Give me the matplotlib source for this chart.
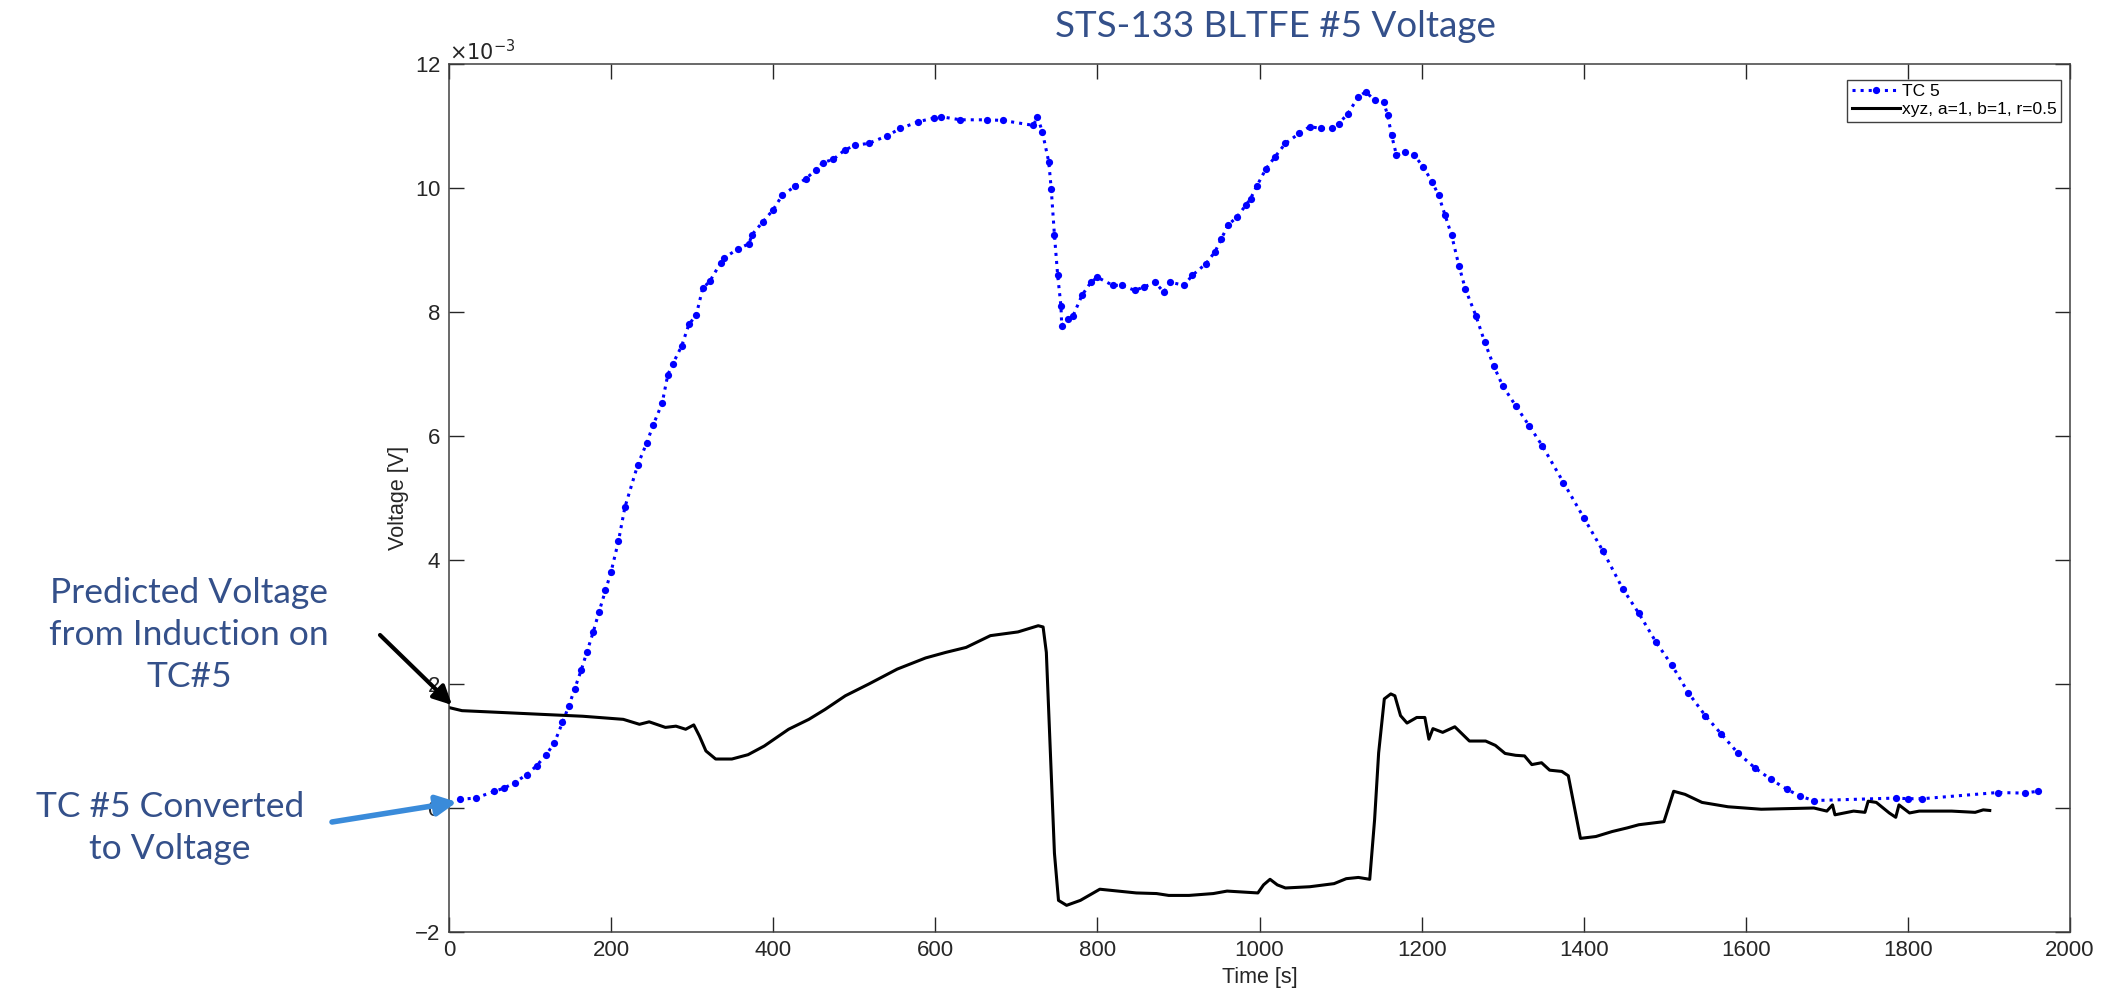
import numpy as np
import matplotlib.pyplot as plt
from matplotlib.ticker import ScalarFormatter

plt.rcParams['axes.unicode_minus'] = False

# ----- data (voltage in units of 1e-3 V) -----
tc5_time = [13, 33, 56, 68, 81, 96, 108, 120, 130, 140,
            148, 155, 163, 170, 178, 185, 193, 200, 209, 217,
            233, 244, 252, 263, 270, 276, 287, 296, 305, 313,
            322, 335, 339, 357, 370, 374, 387, 400, 411, 427,
            440, 453, 461, 474, 488, 501, 518, 540, 557, 579,
            599, 607, 631, 664, 683, 721, 726, 732, 740, 743,
            747, 751, 755, 756, 764, 770, 781, 792, 800, 819,
            830, 846, 857, 871, 882, 890, 907, 917, 934, 945,
            953, 961, 972, 983, 989, 997, 1008, 1019, 1032, 1049,
            1062, 1076, 1090, 1098, 1109, 1122, 1131, 1142, 1153, 1158,
            1163, 1169, 1180, 1191, 1202, 1213, 1221, 1229, 1237, 1246,
            1254, 1267, 1278, 1289, 1300, 1316, 1333, 1349, 1375, 1400,
            1424, 1448, 1468, 1489, 1509, 1529, 1550, 1570, 1590, 1611,
            1631, 1651, 1667, 1684, 1785, 1800, 1818, 1911, 1944, 1960]
tc5_volt = [0.14, 0.16, 0.27, 0.32, 0.41, 0.54, 0.68, 0.86, 1.05, 1.38,
            1.65, 1.92, 2.22, 2.51, 2.84, 3.16, 3.51, 3.81, 4.30, 4.85,
            5.54, 5.89, 6.18, 6.53, 6.99, 7.16, 7.45, 7.80, 7.95, 8.38,
            8.50, 8.79, 8.87, 9.02, 9.10, 9.25, 9.45, 9.65, 9.88, 10.03,
            10.15, 10.29, 10.41, 10.46, 10.61, 10.69, 10.72, 10.84, 10.96, 11.07,
            11.13, 11.15, 11.10, 11.10, 11.09, 11.01, 11.15, 10.91, 10.42, 9.99,
            9.24, 8.59, 8.10, 7.78, 7.89, 7.94, 8.27, 8.48, 8.56, 8.43,
            8.43, 8.35, 8.40, 8.48, 8.32, 8.48, 8.43, 8.59, 8.78, 8.97,
            9.18, 9.40, 9.53, 9.72, 9.83, 10.04, 10.31, 10.50, 10.72, 10.88,
            10.99, 10.96, 10.96, 11.04, 11.20, 11.47, 11.55, 11.42, 11.39, 11.18,
            10.85, 10.53, 10.58, 10.53, 10.34, 10.10, 9.88, 9.56, 9.24, 8.75,
            8.37, 7.94, 7.51, 7.13, 6.81, 6.49, 6.16, 5.84, 5.25, 4.68,
            4.14, 3.54, 3.14, 2.68, 2.30, 1.86, 1.49, 1.19, 0.89, 0.65,
            0.46, 0.30, 0.19, 0.12, 0.16, 0.15, 0.15, 0.25, 0.24, 0.27]

xyz_time = [0, 16, 66, 115, 165, 215, 235, 247, 267, 280,
            292, 302, 309, 317, 329, 349, 369, 389, 419, 444,
            464, 489, 518, 553, 588, 613, 638, 668, 702, 727,
            733, 737, 742, 747, 752, 762, 779, 803, 848, 873,
            888, 913, 943, 960, 998, 1005, 1013, 1022, 1032, 1062,
            1092, 1107, 1122, 1136, 1142, 1147, 1154, 1162, 1167, 1174,
            1182, 1194, 1204, 1209, 1214, 1226, 1241, 1259, 1279, 1291,
            1303, 1316, 1327, 1336, 1348, 1358, 1373, 1381, 1396, 1415,
            1435, 1454, 1468, 1499, 1511, 1525, 1546, 1578, 1619, 1684,
            1700, 1707, 1710, 1733, 1747, 1751, 1761, 1777, 1785, 1789,
            1802, 1814, 1854, 1883, 1893, 1901]
xyz_volt = [1.62, 1.57, 1.54, 1.51, 1.48, 1.43, 1.35, 1.39, 1.30, 1.32,
            1.27, 1.34, 1.16, 0.92, 0.79, 0.79, 0.86, 1.00, 1.27, 1.43,
            1.59, 1.81, 2.00, 2.24, 2.42, 2.51, 2.59, 2.78, 2.84, 2.94,
            2.92, 2.51, 0.89, -0.73, -1.49, -1.57, -1.49, -1.31, -1.37, -1.38,
            -1.41, -1.41, -1.38, -1.34, -1.37, -1.24, -1.15, -1.24, -1.29, -1.27,
            -1.22, -1.14, -1.12, -1.15, -0.19, 0.89, 1.76, 1.84, 1.81, 1.49,
            1.37, 1.46, 1.46, 1.11, 1.28, 1.22, 1.31, 1.08, 1.08, 1.01,
            0.88, 0.85, 0.84, 0.70, 0.73, 0.61, 0.59, 0.52, -0.49, -0.46,
            -0.38, -0.32, -0.27, -0.22, 0.27, 0.22, 0.09, 0.02, -0.02, 0.00,
            -0.05, 0.05, -0.11, -0.05, -0.07, 0.11, 0.09, -0.08, -0.15, 0.05,
            -0.08, -0.05, -0.05, -0.07, -0.03, -0.04]

labels = ["TC 5", "xyz, a=1, b=1, r=0.5"]
title = "STS-133 BLTFE #5 Voltage"
note_pred = "Predicted Voltage\nfrom Induction on\nTC#5"
note_tc = "TC #5 Converted\nto Voltage"

slide_blue = "#34508A"
tick_font = ["Liberation Sans Narrow", "Liberation Sans"]
slide_font = ["Lato", "DejaVu Sans"]

# ----- figure -----
W, H = 2120, 998
fig = plt.figure(figsize=(W / 100, H / 100), dpi=100)
left, right, top, bottom = 449, 2070, 64, 932
ax = fig.add_axes([left / W, 1 - bottom / H, (right - left) / W, (bottom - top) / H])

ax.plot(tc5_time, np.array(tc5_volt) * 1e-3, linestyle=':', color='#0000FF', linewidth=2.2,
        marker='o', markersize=5.2, markeredgewidth=0, label=labels[0])
ax.plot(xyz_time, np.array(xyz_volt) * 1e-3, color='black', linewidth=2.2, label=labels[1])

ax.set_xlim(0, 2000)
ax.set_ylim(-2e-3, 12e-3)
ax.set_xticks(np.arange(0, 2001, 200))
ax.set_yticks(np.arange(-2e-3, 12.1e-3, 2e-3))

# MATLAB-style "x10^-3" exponent above the y axis
fmt = ScalarFormatter(useMathText=True)
fmt.set_powerlimits((-3, -3))
ax.yaxis.set_major_formatter(fmt)
ax.yaxis.get_offset_text().set_fontsize(15)
ax.yaxis.get_offset_text().set_color('#262626')

ax.tick_params(direction='in', length=11, width=1, top=True, right=True,
               labelsize=16, colors='#262626', pad=6)
for lab in ax.get_xticklabels() + ax.get_yticklabels():
    lab.set_family(tick_font)
for sp in ax.spines.values():
    sp.set_color('#404040')
    sp.set_linewidth(1.1)

ax.set_xlabel("Time [s]", fontsize=15.5, family=tick_font, color='#262626', labelpad=4)
ax.set_ylabel("Voltage [V]", fontsize=15.5, family=tick_font, color='#262626', labelpad=4)

leg = ax.legend(loc='upper right', bbox_to_anchor=(1 - 9 / (right - left), 1 - 16 / (bottom - top)),
                borderaxespad=0, fancybox=False, framealpha=1, edgecolor='#404040',
                prop={'family': 'Liberation Sans', 'size': 12.5}, handlelength=2.8,
                handletextpad=0.1, labelspacing=0.15, borderpad=0.25)
leg.get_frame().set_linewidth(1.0)

# ----- slide annotations -----
fig.text(1275 / W, 1 - 37 / H, title, ha='center', va='baseline', fontsize=26.5,
         color=slide_blue, family=slide_font)
fig.text(189 / W, 1 - 635 / H, note_pred, ha='center', va='center', fontsize=25.5,
         color=slide_blue, family=slide_font, linespacing=1.4)
fig.text(170 / W, 1 - 828 / H, note_tc, ha='center', va='center', fontsize=25.5,
         color=slide_blue, family=slide_font, linespacing=1.4)

ax.annotate('', xy=(452, H - 705), xycoords='figure pixels',
            xytext=(380, H - 635), textcoords='figure pixels',
            arrowprops=dict(arrowstyle='-|>', color='black', lw=3, mutation_scale=28,
                            shrinkA=0, shrinkB=0), annotation_clip=False)
ax.annotate('', xy=(457, H - 802), xycoords='figure pixels',
            xytext=(332, H - 822), textcoords='figure pixels',
            arrowprops=dict(arrowstyle='-|>', color='#3A8BDA', lw=4, mutation_scale=30,
                            shrinkA=0, shrinkB=0), annotation_clip=False)

fig.savefig("out.png", dpi=100)
